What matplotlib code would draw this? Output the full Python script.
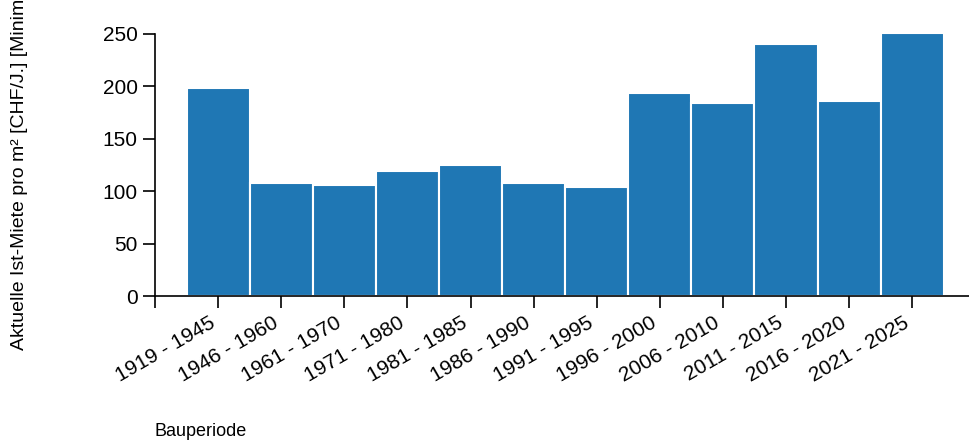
import numpy as np
import matplotlib
matplotlib.use('Agg')
import matplotlib.pyplot as plt

plt.rcParams['font.family'] = ['Liberation Sans', 'DejaVu Sans']

perioden = ['1919 - 1945', '1946 - 1960', '1961 - 1970', '1971 - 1980',
            '1981 - 1985', '1986 - 1990', '1991 - 1995', '1996 - 2000',
            '2006 - 2010', '2011 - 2015', '2016 - 2020', '2021 - 2025']
miete = [198, 108, 106, 119, 125, 108, 104, 193, 184, 240, 186, 251]
yticks = [0, 50, 100, 150, 200, 250]

fig = plt.figure(figsize=(9.69, 4.43), dpi=100)
ax = fig.add_axes([155 / 969, (443 - 296) / 443, 1 - 155 / 969, (296 - 32) / 443])

x = np.arange(len(perioden))
ax.bar(x, miete, width=1.0, color='#1f77b4', edgecolor='white', linewidth=1.5)

ax.set_xlim(-1, 11.9)
ax.set_ylim(0, 251.5)
ax.set_xticks(np.arange(-1, len(perioden)))
ax.set_xticklabels([''] + perioden, rotation=30, ha='right', fontsize=15)
ax.set_yticks(yticks)
ax.set_yticklabels([str(v) for v in yticks], fontsize=15)

for s in ['top', 'right']:
    ax.spines[s].set_visible(False)
ax.spines['left'].set_bounds(0, 250)
ax.spines['left'].set_linewidth(1.2)
ax.spines['bottom'].set_linewidth(1.2)
ax.tick_params(length=8.6, width=1.2, pad=4)

fig.text(155 / 969, 1 - 432 / 443, 'Bauperiode', fontsize=13, ha='left', va='center')
fig.text(20 / 969, 1 - 350 / 443, 'Aktuelle Ist-Miete pro m² [CHF/J.] [Minimum]',
         fontsize=14, rotation=90, ha='center', va='bottom')

fig.savefig('out.png', dpi=100)
